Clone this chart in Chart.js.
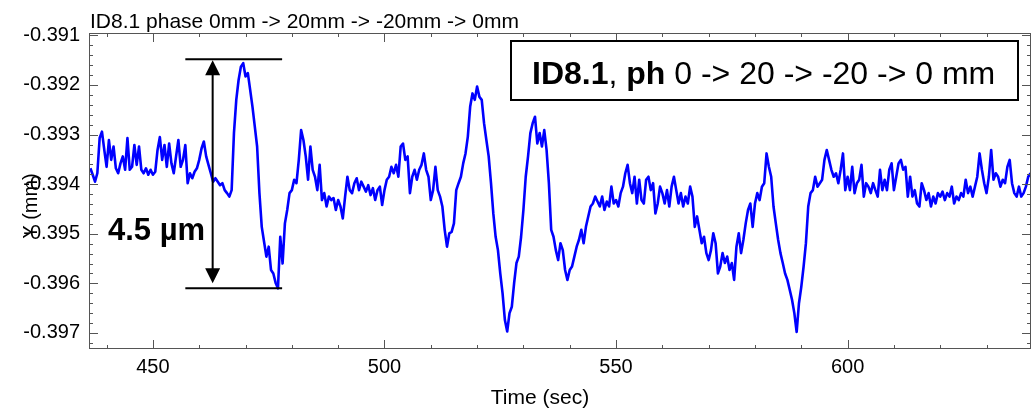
<!DOCTYPE html>
<html>
<head>
<meta charset="utf-8">
<script src="https://cdn.jsdelivr.net/npm/chart.js@4/dist/chart.umd.min.js"></script>
<style>
html,body{margin:0;padding:0;background:#fff;}
#wrap{width:1035px;height:413px;position:relative;}
</style>
</head>
<body>
<div id="wrap"><canvas id="c" width="1035" height="413"></canvas></div>
<script>
// Sampling grid (seconds)
const T_START = 436.5;
const T_STEP = 0.5;

// Y position (mm), 0.5 s apart
const seg1 = [ // 436.5 .. 470
-0.39368,-0.39381,-0.39395,-0.39378,-0.39307,-0.39294,-0.39331,-0.39365,-0.39311,-0.39351,
-0.39324,-0.39368,-0.39378,-0.39358,-0.39344,-0.39371,-0.39307,-0.39371,-0.39365,-0.39321,
-0.39361,-0.39324,-0.39371,-0.39378,-0.39368,-0.39381,-0.39371,-0.39381,-0.39375,-0.39331,
-0.39305,-0.39351,-0.39321,-0.39365,-0.39318,-0.39358,-0.39378,-0.39344,-0.39311,-0.39365,
-0.39351,-0.39321,-0.39398,-0.39378,-0.39388,-0.39375,-0.39368,-0.39351,-0.39328,-0.39314,
-0.39344,-0.39361,-0.39378,-0.39395,-0.39388,-0.39395,-0.39402,-0.39398,-0.39412,-0.39418,
-0.39425,-0.39412,-0.39297,-0.39230,-0.39190,-0.39163,-0.39156,-0.39183
];
const seg2 = [ // 470.5 .. 504.5
-0.39176,-0.39210,-0.39244,-0.39284,-0.39324,-0.39418,-0.39486,-0.39516,-0.39546,-0.39526,
-0.39573,-0.39580,-0.39599,-0.39610,-0.39506,-0.39560,-0.39479,-0.39452,-0.39418,-0.39412,
-0.39391,-0.39398,-0.39351,-0.39291,-0.39311,-0.39344,-0.39391,-0.39324,-0.39371,-0.39385,
-0.39412,-0.39361,-0.39432,-0.39418,-0.39445,-0.39425,-0.39432,-0.39428,-0.39452,-0.39432,
-0.39445,-0.39469,-0.39425,-0.39385,-0.39412,-0.39418,-0.39398,-0.39388,-0.39412,-0.39395,
-0.39405,-0.39415,-0.39402,-0.39422,-0.39408,-0.39432,-0.39412,-0.39405,-0.39442,-0.39412,
-0.39391,-0.39385,-0.39365,-0.39378,-0.39361,-0.39385,-0.39324,-0.39318,-0.39351
];
const seg3 = [ // 505 .. 538
-0.39344,-0.39418,-0.39385,-0.39371,-0.39391,-0.39371,-0.39361,-0.39338,-0.39371,-0.39385,
-0.39432,-0.39412,-0.39365,-0.39412,-0.39425,-0.39445,-0.39492,-0.39526,-0.39499,-0.39496,
-0.39479,-0.39412,-0.39398,-0.39385,-0.39358,-0.39338,-0.39304,-0.39244,-0.39217,-0.39230,
-0.39203,-0.39224,-0.39230,-0.39277,-0.39311,-0.39344,-0.39398,-0.39459,-0.39506,-0.39533,
-0.39580,-0.39620,-0.39674,-0.39697,-0.39660,-0.39647,-0.39599,-0.39559,-0.39546,-0.39506,
-0.39452,-0.39385,-0.39344,-0.39297,-0.39277,-0.39264,-0.39318,-0.39297,-0.39324,-0.39291,
-0.39331,-0.39398,-0.39492,-0.39506,-0.39533,-0.39553,-0.39519
];
const seg4 = [ // 538.5 .. 572
-0.39533,-0.39573,-0.39593,-0.39573,-0.39566,-0.39546,-0.39526,-0.39512,-0.39492,-0.39519,
-0.39486,-0.39465,-0.39445,-0.39439,-0.39425,-0.39435,-0.39445,-0.39425,-0.39452,-0.39435,
-0.39445,-0.39405,-0.39439,-0.39432,-0.39445,-0.39418,-0.39405,-0.39378,-0.39361,-0.39398,
-0.39418,-0.39385,-0.39439,-0.39391,-0.39432,-0.39439,-0.39391,-0.39385,-0.39412,-0.39398,
-0.39459,-0.39439,-0.39405,-0.39418,-0.39439,-0.39412,-0.39445,-0.39405,-0.39385,-0.39412,
-0.39439,-0.39418,-0.39445,-0.39425,-0.39439,-0.39405,-0.39425,-0.39486,-0.39465,-0.39492,
-0.39519,-0.39506,-0.39539,-0.39553,-0.39533,-0.39499,-0.39519,-0.39580
];
const seg5 = [ // 572.5 .. 606
-0.39566,-0.39539,-0.39559,-0.39546,-0.39573,-0.39559,-0.39593,-0.39526,-0.39499,-0.39539,
-0.39512,-0.39479,-0.39452,-0.39439,-0.39486,-0.39439,-0.39418,-0.39432,-0.39405,-0.39398,
-0.39338,-0.39365,-0.39385,-0.39445,-0.39479,-0.39512,-0.39539,-0.39559,-0.39580,-0.39593,
-0.39613,-0.39633,-0.39660,-0.39698,-0.39640,-0.39607,-0.39566,-0.39519,-0.39445,-0.39418,
-0.39412,-0.39385,-0.39405,-0.39398,-0.39391,-0.39351,-0.39331,-0.39351,-0.39371,-0.39385,
-0.39378,-0.39398,-0.39371,-0.39338,-0.39412,-0.39385,-0.39412,-0.39365,-0.39418,-0.39398,
-0.39391,-0.39361,-0.39425,-0.39398,-0.39405,-0.39418,-0.39398,-0.39412
];
const seg6 = [ // 606.5 .. 639.5
-0.39425,-0.39371,-0.39412,-0.39391,-0.39412,-0.39371,-0.39358,-0.39412,-0.39385,-0.39358,
-0.39351,-0.39371,-0.39365,-0.39425,-0.39385,-0.39425,-0.39412,-0.39439,-0.39445,-0.39398,
-0.39412,-0.39432,-0.39418,-0.39445,-0.39425,-0.39439,-0.39418,-0.39425,-0.39415,-0.39432,
-0.39418,-0.39425,-0.39405,-0.39439,-0.39425,-0.39432,-0.39418,-0.39425,-0.39391,-0.39418,
-0.39405,-0.39425,-0.39405,-0.39385,-0.39338,-0.39371,-0.39398,-0.39418,-0.39385,-0.39331,
-0.39391,-0.39378,-0.39385,-0.39405,-0.39391,-0.39398,-0.39365,-0.39351,-0.39398,-0.39418,
-0.39425,-0.39405,-0.39425,-0.39418,-0.39405,-0.39385,-0.39378
];

const yValues = [].concat(seg1, seg2, seg3, seg4, seg5, seg6);
const times = yValues.map((_, i) => T_START + i * T_STEP);

const X_MIN = 436.2, X_MAX = 639.6;
const Y_MIN = -0.397323, Y_MAX = -0.390952;
const xTickValues = [450, 500, 550, 600];
const yTickLabels = ['-0.391','-0.392','-0.393','-0.394','-0.395','-0.396','-0.397'];

const chartTitle = 'ID8.1 phase 0mm -> 20mm -> -20mm -> 0mm';
const xTitle = 'Time (sec)';
const yTitle = 'Y (mm)';
const annotationText = '4.5 \u00b5m';
// span annotation (data coords)
const spanTop = -0.39148, spanBottom = -0.39610;
const spanX0 = 457.0, spanX1 = 477.9, spanArrowX = 462.9;

const FONT = "'Liberation Sans', Arial, Helvetica, sans-serif";

const decor = {
  id: 'decor',
  afterDraw(chart) {
    const ctx = chart.ctx;
    const a = chart.chartArea;
    const xs = chart.scales.x, ys = chart.scales.y;
    ctx.save();
    // frame
    ctx.strokeStyle = '#555';
    ctx.lineWidth = 1;
    ctx.strokeRect(Math.round(a.left) + 0.5, Math.round(a.top) + 0.5,
                   Math.round(a.right - a.left) - 1, Math.round(a.bottom - a.top) - 1);
    // x ticks (minor every 10, major every 50)
    ctx.beginPath();
    for (let v = 440; v <= 630; v += 10) {
      const len = (v % 50 === 0) ? 9 : 4;
      const px = Math.round(xs.getPixelForValue(v)) + 0.5;
      ctx.moveTo(px, a.bottom); ctx.lineTo(px, a.bottom - len);
      ctx.moveTo(px, a.top); ctx.lineTo(px, a.top + len);
    }
    // y ticks (minor every 0.0002, major every 0.001)
    for (let k = 3910; k <= 3972; k += 2) {
      const v = -k / 10000;
      const len = (k % 10 === 0) ? 9 : 4;
      const py = Math.round(ys.getPixelForValue(v)) + 0.5;
      ctx.moveTo(a.left, py); ctx.lineTo(a.left + len, py);
      ctx.moveTo(a.right, py); ctx.lineTo(a.right - len, py);
    }
    ctx.stroke();

    ctx.fillStyle = '#000';
    // top title
    ctx.font = '21px ' + FONT;
    ctx.textAlign = 'left';
    ctx.textBaseline = 'alphabetic';
    ctx.fillText(chartTitle, 90, 28);
    // x title
    ctx.font = '21px ' + FONT;
    ctx.textAlign = 'center';
    ctx.fillText(xTitle, 540, 404);
    // y title
    ctx.save();
    ctx.translate(31, 206);
    ctx.rotate(-Math.PI / 2);
    ctx.textBaseline = 'middle';
    ctx.textAlign = 'center';
    ctx.font = '20px ' + FONT;
    ctx.fillText(yTitle, 0, 0);
    ctx.restore();

    // legend box
    ctx.lineWidth = 2;
    ctx.strokeStyle = '#000';
    ctx.strokeRect(511, 41, 507, 59);
    ctx.textAlign = 'left';
    ctx.textBaseline = 'alphabetic';
    let x = 532;
    const parts = [['bold', 'ID8.1'], ['normal', ', '], ['bold', 'ph'], ['normal', ' 0 -> 20 -> -20 -> 0 mm']];
    for (const [w, s] of parts) {
      ctx.font = w + ' 32px ' + FONT;
      ctx.fillText(s, x, 83.5);
      x += ctx.measureText(s).width;
    }

    // span annotation
    const yT = ys.getPixelForValue(spanTop);
    const yB = ys.getPixelForValue(spanBottom);
    const x0 = xs.getPixelForValue(spanX0);
    const x1 = xs.getPixelForValue(spanX1);
    const xa = xs.getPixelForValue(spanArrowX);
    ctx.lineWidth = 2;
    ctx.beginPath();
    ctx.moveTo(x0, yT); ctx.lineTo(x1, yT);
    ctx.moveTo(x0, yB); ctx.lineTo(x1, yB);
    ctx.moveTo(xa, yT + 10); ctx.lineTo(xa, yB - 10);
    ctx.stroke();
    ctx.beginPath();
    ctx.moveTo(xa, yT + 1); ctx.lineTo(xa - 7.5, yT + 16); ctx.lineTo(xa + 7.5, yT + 16); ctx.closePath();
    ctx.moveTo(xa, yB - 5); ctx.lineTo(xa - 7.5, yB - 20); ctx.lineTo(xa + 7.5, yB - 20); ctx.closePath();
    ctx.fill();
    ctx.font = 'bold 31px ' + FONT;
    ctx.textAlign = 'left';
    ctx.fillText(annotationText, 108, 240);
    ctx.restore();
  }
};

new Chart(document.getElementById('c'), {
  type: 'line',
  data: {
    datasets: [{
      data: times.map((t, i) => ({ x: t, y: yValues[i] })),
      borderColor: '#0000ff',
      borderWidth: 2.6,
      borderJoinStyle: 'round',
      pointRadius: 0,
      tension: 0,
      fill: false
    }]
  },
  options: {
    responsive: false,
    animation: false,
    devicePixelRatio: 1,
    layout: { padding: { left: 0, top: 33, right: 4, bottom: 0 } },
    plugins: { legend: { display: false }, tooltip: { enabled: false }, title: { display: false } },
    scales: {
      x: {
        type: 'linear', min: X_MIN, max: X_MAX,
        grid: { display: false, drawTicks: false },
        border: { display: false },
        afterBuildTicks(s) { s.ticks = xTickValues.map(v => ({ value: v })); },
        ticks: { font: { family: FONT, size: 20 }, color: '#000', padding: 6, maxRotation: 0, autoSkip: false },
        afterFit(s) { s.height = 64; }
      },
      y: {
        type: 'linear', min: Y_MIN, max: Y_MAX,
        grid: { display: false, drawTicks: false },
        border: { display: false },
        afterBuildTicks(s) { s.ticks = yTickLabels.map(l => ({ value: parseFloat(l) })); },
        ticks: {
          font: { family: FONT, size: 20 }, color: '#000', padding: 9,
          callback: (v) => yTickLabels.find(l => Math.abs(parseFloat(l) - v) < 1e-7) || ''
        },
        afterFit(s) { s.width = 89; }
      }
    }
  },
  plugins: [decor]
});
</script>
</body>
</html>
